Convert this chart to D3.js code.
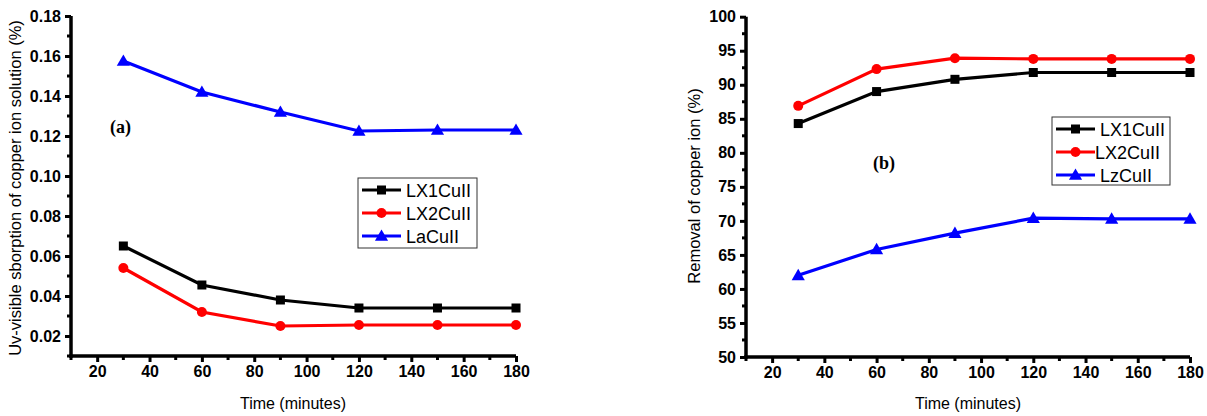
<!DOCTYPE html>
<html>
<head>
<meta charset="utf-8">
<script src="https://cdn.jsdelivr.net/npm/d3@7"></script>
<style>
  body { margin: 0; background: #fff; }
  svg { display: block; }
</style>
</head>
<body>
<script>
// Sampling times (minutes)
const times = [30, 60, 90, 120, 150, 180];

// Panel (a): UV-visible absorption of copper ion solution (%)
const absLX1 = [0.065, 0.0455, 0.038, 0.034, 0.034, 0.034];
const absLX2 = [0.054, 0.032, 0.025, 0.0255, 0.0255, 0.0255];
const absLa  = [0.1575, 0.142, 0.132, 0.1225, 0.123, 0.123];

// Panel (b): removal of copper ion (%)
const remLX1 = [84.3, 89.0, 90.8, 91.8, 91.8, 91.8];
const remLX2 = [86.9, 92.3, 93.9, 93.8, 93.8, 93.8];
const remLz  = [62.0, 65.8, 68.2, 70.4, 70.3, 70.3];

// Axis tick values
const xTicks = [20, 40, 60, 80, 100, 120, 140, 160, 180];
const yTicksA = [0.02, 0.04, 0.06, 0.08, 0.10, 0.12, 0.14, 0.16, 0.18];
const yTicksB = [50, 55, 60, 65, 70, 75, 80, 85, 90, 95, 100];

const W = 1207, H = 416;
const svg = d3.select("body").append("svg").attr("width", W).attr("height", H);

const FONT = "Arial, 'Liberation Sans', sans-serif";
const SERIF = "'Times New Roman', 'Liberation Serif', serif";

function marker(g, shape, x, y, color) {
  if (shape === "square") {
    g.append("rect").attr("x", x - 4.5).attr("y", y - 4.5).attr("width", 9).attr("height", 9).attr("fill", color);
  } else if (shape === "circle") {
    g.append("circle").attr("cx", x).attr("cy", y).attr("r", 5).attr("fill", color);
  } else {
    g.append("path").attr("d", d3.symbol(d3.symbolTriangle, 75)()).attr("transform", `translate(${x},${y + 1})`).attr("fill", color);
  }
}

function styleAxis(sel) {
  sel.select(".domain").style("stroke", "#000").style("stroke-width", "3.5px");
  sel.selectAll(".tick line").style("stroke", "#000").style("stroke-width", "3px");
  sel.selectAll(".tick text")
    .style("font-family", FONT).style("font-weight", "bold").style("font-size", "16px").style("fill", "#000");
}

function panel(opt) {
  const x = d3.scaleLinear().domain([10, 180]).range([opt.left, opt.right]);
  const y = d3.scaleLinear().domain(opt.yDomain).range([opt.bottom, opt.top]);
  const g = svg.append("g");

  // minor ticks
  const xMinor = d3.range(10, 181, 10).filter(v => v % 20 !== 0);
  g.append("g").selectAll("line").data(xMinor).join("line")
    .attr("x1", d => x(d)).attr("x2", d => x(d))
    .attr("y1", opt.bottom).attr("y2", opt.bottom + 4)
    .style("stroke", "#000").style("stroke-width", "3px");
  g.append("g").selectAll("line").data(opt.yMinor).join("line")
    .attr("x1", opt.left).attr("x2", opt.left - 4)
    .attr("y1", d => y(d)).attr("y2", d => y(d))
    .style("stroke", "#000").style("stroke-width", "3px");

  // axes
  const xa = g.append("g").attr("transform", `translate(0,${opt.bottom})`)
    .call(d3.axisBottom(x).tickValues(xTicks).tickSize(6).tickPadding(4));
  xa.select(".domain").attr("d", `M${opt.left - 1.75},0H${opt.right}`);
  styleAxis(xa);

  const ya = g.append("g").attr("transform", `translate(${opt.left},0)`)
    .call(d3.axisLeft(y).tickValues(opt.yTicks).tickFormat(opt.fmt).tickSize(6).tickPadding(4));
  ya.select(".domain").attr("d", `M0,${opt.top}V${opt.bottom + 1.75}`);
  styleAxis(ya);

  // series
  const line = d3.line().x((d, i) => x(times[i])).y(d => y(d));
  opt.series.forEach(s => {
    g.append("path").datum(s.values).attr("d", line)
      .attr("fill", "none").attr("stroke", s.color).attr("stroke-width", 3.2);
    s.values.forEach((v, i) => marker(g, s.shape, x(times[i]), y(v), s.color));
  });

  // axis titles
  g.append("text").attr("x", opt.xTitleX).attr("y", 409).attr("text-anchor", "middle")
    .attr("font-family", FONT).attr("font-size", 16).text("Time (minutes)");
  g.append("text").attr("transform", `translate(${opt.yTitleX},${opt.yTitleY}) rotate(-90)`)
    .attr("text-anchor", "middle").attr("font-family", FONT).attr("font-size", 16.5).text(opt.yTitle);

  // panel label
  g.append("text").attr("x", opt.labelX).attr("y", opt.labelY)
    .attr("font-family", SERIF).attr("font-weight", "bold").attr("font-size", 18).text(opt.label);

  // legend
  const L = opt.legend;
  g.append("rect").attr("x", L.x).attr("y", L.y).attr("width", L.w).attr("height", L.h)
    .attr("fill", "#fff").attr("stroke", "#333").attr("stroke-width", 1);
  opt.series.forEach((s, i) => {
    const cy = L.y + 12 + i * 23;
    g.append("line").attr("x1", L.x + 4).attr("x2", L.x + 43).attr("y1", cy).attr("y2", cy)
      .attr("stroke", s.color).attr("stroke-width", 3.2);
    marker(g, s.shape, L.x + 23.5, cy, s.color);
    g.append("text").attr("x", L.x + (s.textDx || 48)).attr("y", cy + 6.5)
      .attr("font-family", FONT).attr("font-size", 18).text(s.name);
  });
}

panel({
  left: 71, right: 516, top: 16, bottom: 356,
  yDomain: [0.01, 0.18], yTicks: yTicksA,
  yMinor: d3.range(1, 18, 2).map(v => v / 100),
  fmt: d3.format(".2f"),
  yTitle: "Uv-visible sborption of copper ion solution (%)", yTitleX: 21, yTitleY: 188,
  xTitleX: 293,
  label: "(a)", labelX: 110, labelY: 133,
  legend: { x: 358, y: 178, w: 119, h: 70 },
  series: [
    { name: "LX1CuII", values: absLX1, color: "#000", shape: "square" },
    { name: "LX2CuII", values: absLX2, color: "#ff0000", shape: "circle" },
    { name: "LaCuII", values: absLa, color: "#0000ff", shape: "triangle" }
  ]
});

panel({
  left: 746, right: 1190, top: 16.7, bottom: 357,
  yDomain: [50, 100], yTicks: yTicksB,
  yMinor: d3.range(52.5, 100, 5),
  fmt: d3.format("d"),
  yTitle: "Removal of copper ion (%)", yTitleX: 700, yTitleY: 186,
  xTitleX: 968,
  label: "(b)", labelX: 873, labelY: 169,
  legend: { x: 1052, y: 117, w: 118, h: 68 },
  series: [
    { name: "LX1CuII", values: remLX1, color: "#000", shape: "square" },
    { name: "LX2CuII", values: remLX2, color: "#ff0000", shape: "circle", textDx: 43 },
    { name: "LzCuII", values: remLz, color: "#0000ff", shape: "triangle" }
  ]
});
</script>
</body>
</html>
